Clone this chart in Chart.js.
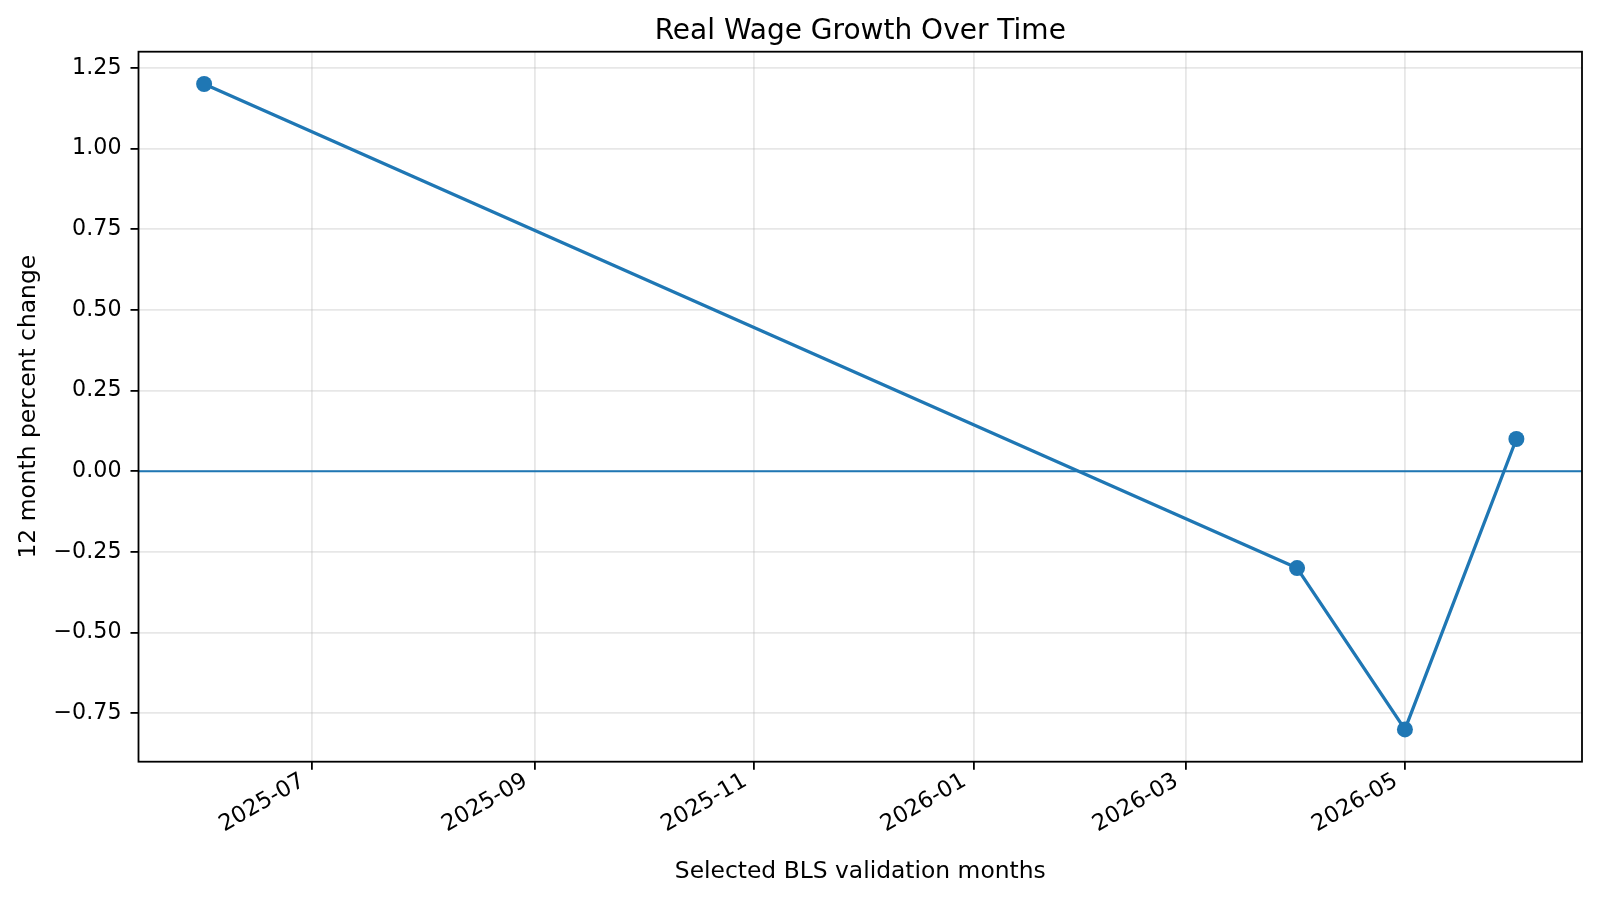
<!DOCTYPE html>
<html lang="en">
<head>
  <meta charset="UTF-8">
  <title>Real Wage Growth Over Time</title>
  <script src="https://cdn.jsdelivr.net/npm/chart.js"></script>
  <style>
    html, body { margin: 0; padding: 0; background: #fff; }
    #wrap { width: 1598px; height: 899px; }
  </style>
</head>
<body>
<div id="wrap">
  <canvas id="myCanvas" width="1598" height="899"></canvas>
</div>
<script>
  // data
  const months = ["2025-06-01", "2026-04-01", "2026-05-01", "2026-06-01"];
  const wageGrowth = [1.2, -0.3, -0.8, 0.1];
  const xTickLabels = ["2025-07", "2025-09", "2025-11", "2026-01", "2026-03", "2026-05"];
  const yTicks = [-0.75, -0.5, -0.25, 0, 0.25, 0.5, 0.75, 1.0, 1.25];
  const zeroLine = 0;

  const blue = "#1f77b4";
  const gridColor = "rgba(176,176,176,0.3)";

  // days since epoch, so the x axis is linear in time
  function toDay(s) {
    const p = s.split("-").map(Number);
    return Date.UTC(p[0], p[1] - 1, p[2] || 1) / 86400000;
  }
  function dayLabel(d) {
    const dt = new Date(d * 86400000);
    return dt.getUTCFullYear() + "-" + String(dt.getUTCMonth() + 1).padStart(2, "0");
  }

  const xs = months.map(toDay);
  const xSpan = xs[xs.length - 1] - xs[0];
  const xMin = xs[0] - xSpan * 0.05;
  const xMax = xs[xs.length - 1] + xSpan * 0.05;
  const yLo = Math.min(...wageGrowth), yHi = Math.max(...wageGrowth);
  const yMin = yLo - (yHi - yLo) * 0.05;
  const yMax = yHi + (yHi - yLo) * 0.05;

  const points = xs.map((x, i) => ({ x: x, y: wageGrowth[i] }));

  Chart.defaults.font.family = "'DejaVu Sans', sans-serif";
  Chart.defaults.color = "#000";

  const frame = {
    id: "frame",
    beforeDatasetsDraw(chart) {
      const { ctx, chartArea: a, scales } = chart;
      const y0 = scales.y.getPixelForValue(zeroLine);
      ctx.save();
      ctx.strokeStyle = blue;
      ctx.lineWidth = 2.2;
      ctx.beginPath();
      ctx.moveTo(a.left, y0);
      ctx.lineTo(a.right, y0);
      ctx.stroke();
      ctx.restore();
    },
    afterDraw(chart) {
      const { ctx, chartArea: a } = chart;
      ctx.save();
      ctx.strokeStyle = "#000";
      ctx.lineWidth = 1.8;
      ctx.strokeRect(a.left, a.top, a.right - a.left, a.bottom - a.top);
      ctx.restore();
    }
  };

  new Chart(document.getElementById("myCanvas"), {
    type: "line",
    data: {
      datasets: [{
        label: "Real wage growth",
        data: points,
        borderColor: blue,
        backgroundColor: blue,
        borderWidth: 3.3,
        borderJoinStyle: "round",
        pointRadius: 8,
        pointBorderWidth: 0,
        pointBackgroundColor: blue,
        tension: 0
      }]
    },
    options: {
      responsive: false,
      animation: false,
      devicePixelRatio: 1,
      layout: { padding: { left: 0, right: 16, top: 0, bottom: 0 } },
      plugins: {
        legend: { display: false },
        tooltip: { enabled: false },
        title: {
          display: true,
          fullSize: false,
          text: "Real Wage Growth Over Time",
          color: "#000",
          font: { size: 28, weight: "normal" },
          padding: { top: 15.2, bottom: 2.9 }
        }
      },
      scales: {
        x: {
          type: "linear",
          min: xMin,
          max: xMax,
          afterBuildTicks(scale) {
            scale.ticks = xTickLabels.map(l => ({ value: toDay(l + "-01") }));
          },
          afterFit(scale) { scale.height = 137.3; },
          ticks: {
            autoSkip: false,
            minRotation: 30,
            maxRotation: 30,
            padding: -2,
            labelOffset: -9,
            font: { size: 22.6 },
            callback: v => dayLabel(v)
          },
          grid: {
            color: gridColor,
            lineWidth: 1.8,
            tickColor: "#000",
            tickWidth: 1.8,
            tickLength: 8
          },
          border: { display: false },
          title: {
            display: true,
            text: "Selected BLS validation months",
            font: { size: 23.4 },
            padding: { top: 0, bottom: 13 }
          }
        },
        y: {
          min: yMin,
          max: yMax,
          afterBuildTicks(scale) {
            scale.ticks = yTicks.map(v => ({ value: v }));
          },
          afterFit(scale) { scale.width = 138.5; },
          ticks: {
            padding: 9,
            font: { size: 22.2 },
            callback: v => v.toFixed(2).replace("-", "\u2212")
          },
          grid: {
            color: gridColor,
            lineWidth: 1.8,
            tickColor: "#000",
            tickWidth: 1.8,
            tickLength: 8
          },
          border: { display: false },
          title: {
            display: true,
            text: "12 month percent change",
            font: { size: 23.4 },
            padding: { top: 15.2, bottom: 0 }
          }
        }
      }
    },
    plugins: [frame]
  });
</script>
</body>
</html>
